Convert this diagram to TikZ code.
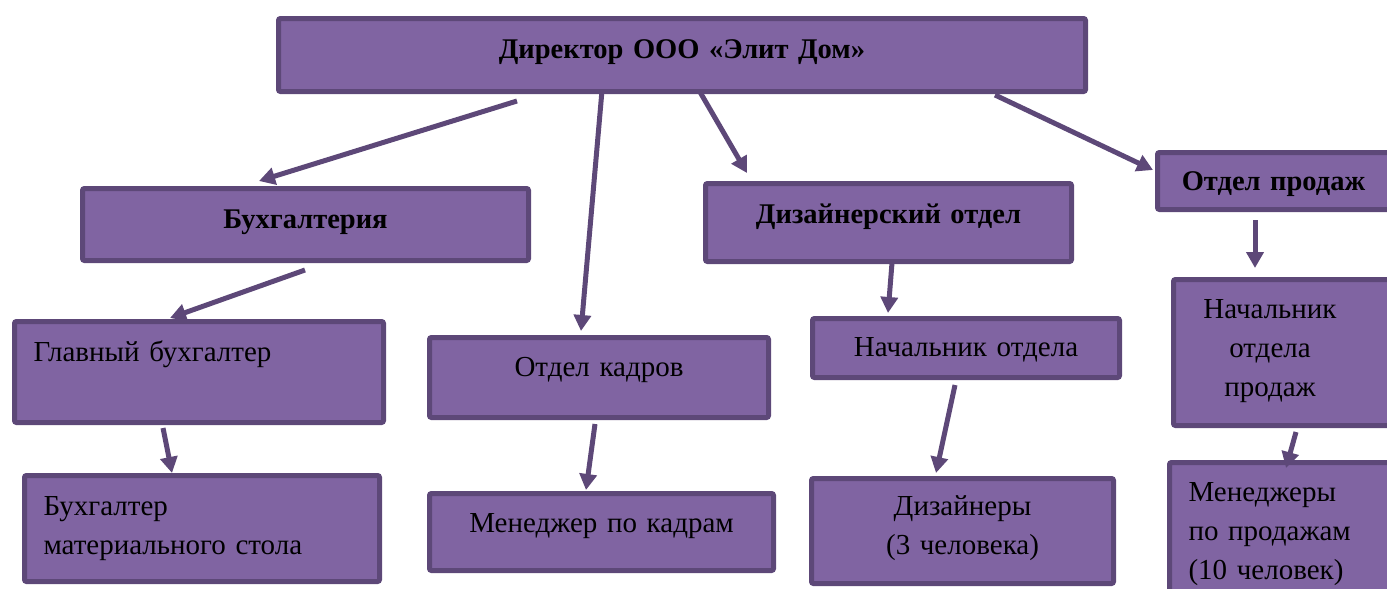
\documentclass[tikz,border=0pt]{standalone}
\usepackage{fontspec}
\setmainfont{Liberation Serif}
\usepackage{tikz}
\usetikzlibrary{arrows.meta}
\definecolor{boxfill}{HTML}{8064A2}
\definecolor{boxline}{HTML}{5D4878}
\newcommand{\regtext}{\fontsize{29}{39}\selectfont}
\newcommand{\boldtext}{\fontsize{28.5}{34}\selectfont\bfseries}
\tikzset{
	orgbox/.style={draw=boxline, fill=boxfill, line width=5pt, rounded corners=2pt,
		anchor=north west, inner xsep=0pt, inner ysep=0pt, outer sep=0pt, font=\regtext},
	orgarrow/.style={draw=boxline, line width=5pt, -{Triangle[length=16pt,width=17pt]}},
}

\begin{document}
\begin{tikzpicture}[x=1pt, y=-1pt]
				\useasboundingbox (0,0) rectangle (1387,589);
				% Boxes:
				\node[orgbox, font=\boldtext, text width=807pt, align=center, text height=40pt, text depth=33pt] (dir) at (278.5,18.5) {Директор ООО «Элит Дом»};
				\node[orgbox, font=\boldtext, text width=446pt, align=center, text height=40pt, text depth=32pt] (buh) at (82.5,188.5) {Бухгалтерия};
				\node[orgbox, font=\boldtext, text width=366pt, align=center, text height=40pt, text depth=38pt] (diz) at (705.5,183.5) {Дизайнерский отдел};
				\node[orgbox, font=\boldtext, text width=232pt, align=center, text height=38pt, text depth=19pt] (prod) at (1157.5,152.5) {Отдел продаж};
				\node[orgbox, inner xsep=19pt, text width=331pt, align=left, text height=40pt, text depth=61pt] (glav) at (14.5,321.5) {Главный бухгалтер};
				\node[orgbox, text width=339pt, align=center, text height=38.5pt, text depth=41.5pt] (kadr) at (429.5,337.5) {Отдел кадров};
				\node[orgbox, text width=307pt, align=center, text height=38pt, text depth=21pt] (nach) at (812.5,318.5) {Начальник отдела};
				\node[orgbox, text width=219pt, align=left, text height=38.5pt, text depth=107.5pt] (nprod) at (1173.5,279.5) {\parbox[t]{193pt}{\centering Начальник\\отдела\\продаж}};
				\node[orgbox, inner xsep=19pt, text width=317pt, align=left, text height=40pt, text depth=66pt] (bmat) at (24.5,475.5) {Бухгалтер\\материального стола};
				\node[orgbox, text width=344pt, align=center, text height=38.5pt, text depth=38.5pt] (mkad) at (429.5,493.5) {Менеджер по кадрам};
				\node[orgbox, text width=302pt, align=center, text height=37pt, text depth=68pt] (dizr) at (811.5,478.5) {Дизайнеры\\(3 человека)};
				\node[orgbox, inner xsep=19pt, text width=185pt, align=left, text height=38.5pt, text depth=101.5pt] (mprod) at (1169.5,462.5) {Менеджеры\\по продажам\\(10 человек)};
				% Arrows:
				\draw[orgarrow] ([shift={(238.5,9.5)}]dir.south west) -- ([shift={(176.5,-7.5)}]buh.north west);
				\draw[orgarrow] ([shift={(323.5,-1)}]dir.south west) -- ([shift={(151.5,-6.5)}]kadr.north west);
				\draw[orgarrow] ([shift={(421.5,0.5)}]dir.south west) -- ([shift={(41.5,-10.5)}]diz.north west);
				\draw[orgarrow] ([shift={(716.5,3.5)}]dir.south west) -- ([shift={(-4.5,17.5)}]prod.north west);
				\draw[orgarrow] ([shift={(222.5,9.5)}]buh.south west) -- ([shift={(155.5,-3.5)}]glav.north west);
				\draw[orgarrow] ([shift={(148.5,5.5)}]glav.south west) -- ([shift={(147.5,-2.5)}]bmat.north west);
				\draw[orgarrow] ([shift={(165.5,6.5)}]kadr.south west) -- ([shift={(156.5,-3.5)}]mkad.north west);
				\draw[orgarrow] ([shift={(186.5,1.5)}]diz.south west) -- ([shift={(75.5,-5.5)}]nach.north west);
				\draw[orgarrow] ([shift={(142.5,7.5)}]nach.south west) -- ([shift={(124.5,-5.5)}]dizr.north west);
				\draw[orgarrow] ([shift={(97.5,10.5)}]prod.south west) -- ([shift={(81.5,-11.5)}]nprod.north west);
				\draw[orgarrow] ([shift={(122.5,6.5)}]nprod.south west) -- ([shift={(116.5,5.5)}]mprod.north west);
\end{tikzpicture}
\end{document}
